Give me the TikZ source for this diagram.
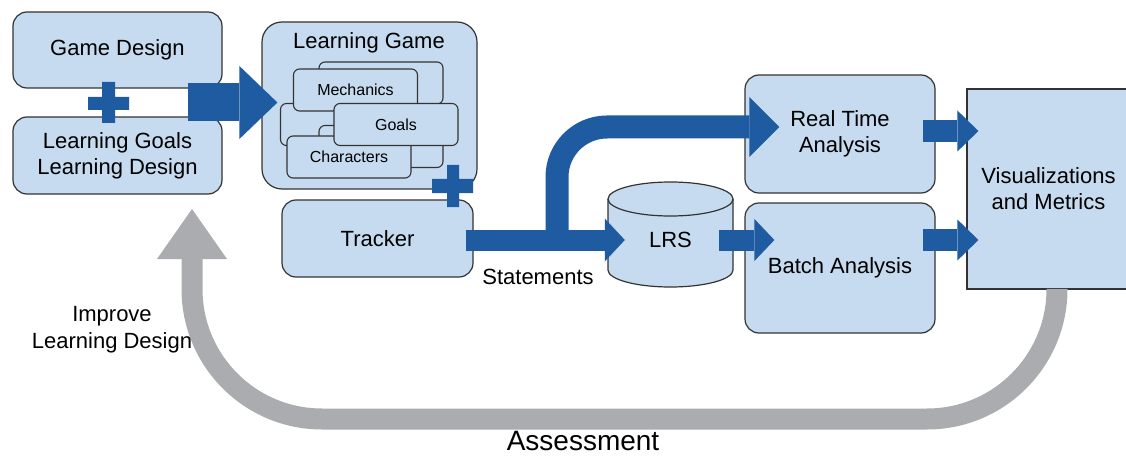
\documentclass[tikz,border=0pt]{standalone}
\usepackage{fontspec}
\setmainfont{Liberation Sans}
\usetikzlibrary{arrows.meta, calc}
\definecolor{boxblue}{RGB}{198,219,239}
\definecolor{flowblue}{RGB}{31,91,160}
\definecolor{loopgray}{RGB}{170,172,175}
\tikzset{
    box/.style={draw=black!80, fill=boxblue, line width=1.2pt, rounded corners=14pt, align=center, font=\fontsize{22}{26}\selectfont},
    card/.style={draw=black!80, fill=boxblue, line width=1.1pt, rounded corners=6pt, minimum width=124pt, minimum height=42pt, font=\fontsize{16}{19}\selectfont},
    note/.style={align=center, font=\fontsize{22}{27}\selectfont},
    flow/.style={draw=flowblue, line width=21pt},
    flowhead/.style 2 args={-{Triangle[length=#1,width=#2,line width=0pt]}},
  }

\begin{document}
\begin{tikzpicture}[x=1pt,y=-1pt,inner sep=0pt]
    \useasboundingbox (0,0) rectangle (1126,457);
	    % design inputs
		    \node[box, minimum width=209pt, minimum height=76pt] (gamedesign) at (117.5,50) {Game Design};
		    \node[box, minimum width=209pt, minimum height=77pt] (learngoals) at (117.5,155.5) {Learning Goals\\Learning Design};
		    \fill[flowblue] (88,97) rectangle (129,110) (102,82) rectangle (115,123);
	    % the game and its parts
		    \node[box, rounded corners=20pt, minimum width=215pt, minimum height=167pt] (game) at (369.5,105.5) {};
		    \node[note] (gametitle) at (369,43) {Learning Game};
		    \node[card] (stack1) at (381,83) {};
		    \node[card] (stack2) at (342.5,124.5) {};
		    \node[card] (stack3) at (381,146.5) {};
		    \node[card] (mechanics) at (355.5,90) {Mechanics};
		    \node[card] (characters) at (349,157) {Characters};
		    \node[card] (goals) at (396,124.5) {Goals};
		    \node[box, minimum width=191pt, minimum height=77pt] (tracker) at (377.5,238.5) {Tracker};
		    \fill[flowblue] (432,179) rectangle (473,193) (447,165) rectangle (459,207);
	    % store and analysis
		    \path[draw=black!80, fill=boxblue, line width=1.2pt] (608,199) -- (608,270) arc[start angle=180, end angle=360, x radius=62.5pt, y radius=17pt] -- (733,199) arc[start angle=0, end angle=180, x radius=62.5pt, y radius=17pt] -- cycle;
		    \draw[black!80, line width=1.2pt] (608,199) arc[start angle=180, end angle=360, x radius=62.5pt, y radius=17pt];
		    \node[note, minimum width=125pt, minimum height=40pt] (lrs) at (670.5,240) {LRS};
		    \node[box, minimum width=190pt, minimum height=118pt] (realtime) at (840,134) {Real Time\\Analysis};
		    \node[box, minimum width=190pt, minimum height=130pt] (batch) at (840,268) {Batch Analysis};
		    \node[box, rounded corners=0pt, minimum width=163pt, minimum height=200pt] (vis) at (1048.5,189) {Visualizations\\and Metrics};
	    % flows
		    \coordinate (design) at ($(gamedesign.south east)!.5!(learngoals.north east)$);
		    \draw[flow, line width=38pt, flowhead={38pt}{73pt}, shorten <=-35pt, shorten >=-16pt] (design) -- (design -| game.west);
		    \draw[flow, flowhead={20pt}{43pt}, shorten <=-8pt, shorten >=-17pt] (tracker.east |- lrs.west) -- (lrs.west);
		    \coordinate (split) at (557,245);
		    \coordinate (rtin) at ([yshift=7pt]realtime.west);
		    \draw[flow, line width=23pt, rounded corners=50pt, flowhead={30pt}{60pt}, shorten >=-35pt] (split) -- (split |- rtin) -- (rtin);
		    \draw[flow, flowhead={20pt}{42pt}, shorten <=-14pt, shorten >=-30pt] (lrs.east) -- (lrs.east -| batch.west);
		    \draw[flow, line width=22pt, flowhead={21pt}{41pt}, shorten <=-13pt, shorten >=-12pt] ([yshift=3pt]realtime.east) -- ([yshift=3pt]realtime.east -| vis.west);
		    \draw[flow, line width=22pt, flowhead={21pt}{41pt}, shorten <=-13pt, shorten >=-12pt] (batch.east |- lrs.east) -- (lrs.east -| vis.west);
	    % assessment loop
		    \coordinate (turn) at (192,419);
		    \coordinate (improve) at (192,209);
		    \draw[draw=loopgray, line width=21pt, rounded corners=130pt, flowhead={50pt}{70pt}] ([xshift=8.5pt]vis.south) |- (turn) -- (improve);
		    \node[note] (statements) at (538,277) {Statements};
		    \node[note] (improvetext) at (112,330) {Improve\\Learning Design};
		    \node[note, font=\fontsize{28}{32}\selectfont] (assessment) at (583,441) {Assessment};
		\end{tikzpicture}
\end{document}
